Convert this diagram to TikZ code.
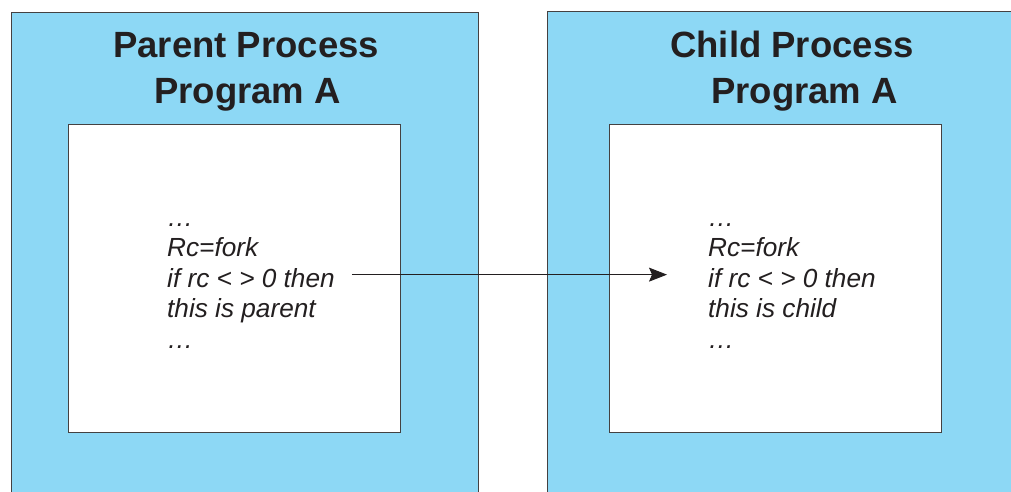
\documentclass[tikz,border=0pt]{standalone}
\usepackage{fontspec}
\setmainfont{Liberation Sans}
\usetikzlibrary{arrows.meta, positioning}
\definecolor{procblue}{HTML}{8DD8F5}
\definecolor{inkgrey}{HTML}{231F20}
\tikzset{
    process/.style={draw=inkgrey!85, line width=1.4pt, fill=procblue, anchor=north west, minimum height=500pt}, % blue process frame
    program/.style={draw=inkgrey!85, line width=1.2pt, fill=white, anchor=north west, minimum width=332pt, minimum height=308pt}, % white program area
    title/.style={anchor=base west, inner sep=0pt, align=left, font=\fontsize{36.5}{46}\selectfont\bfseries, text=inkgrey}, % two line heading
    codeline/.style={anchor=base west, inner sep=0pt, font=\fontsize{26.2}{30}\selectfont\itshape, text=inkgrey}, % one line of code
    fork/.style={-{Stealth[length=18pt, width=14pt, inset=3pt]}, line width=0.9pt, draw=inkgrey, shorten <=17pt, shorten >=41pt},
}

\begin{document}
\begin{tikzpicture}[x=1pt, y=-1pt]
    \useasboundingbox (0,0) rectangle (1011,492);
    \clip (0,0) rectangle (1011,492);
    \node[process, minimum width=467pt] (parent) at (11,12) {};
    \node[process, minimum width=500pt] (child) at (547,11) {};
    \node[program] (pprog) at (68,124) {};
    \node[program] (cprog) at (609,124) {};
    \node[title] (ptitle) at (113,103) {Parent Process\\\hspace*{41pt}Program A};
    \node[title] (ctitle) at (670,103) {Child Process\\\hspace*{41pt}Program A};
    % code in both programs
    \foreach \txt [count=\i] in {…, Rc=fork, if rc < > 0 then, this is parent, …}
        \node[codeline] (p\i) at (167, 195.5+30.5*\i) {\txt};
    \foreach \txt [count=\i] in {…, Rc=fork, if rc < > 0 then, this is child, …}
        \node[codeline] (c\i) at (708, 195.5+30.5*\i) {\txt};
    \draw[fork] ([yshift=3pt]p3.east) -- ([yshift=3pt]c3.west);
\end{tikzpicture}
\end{document}
